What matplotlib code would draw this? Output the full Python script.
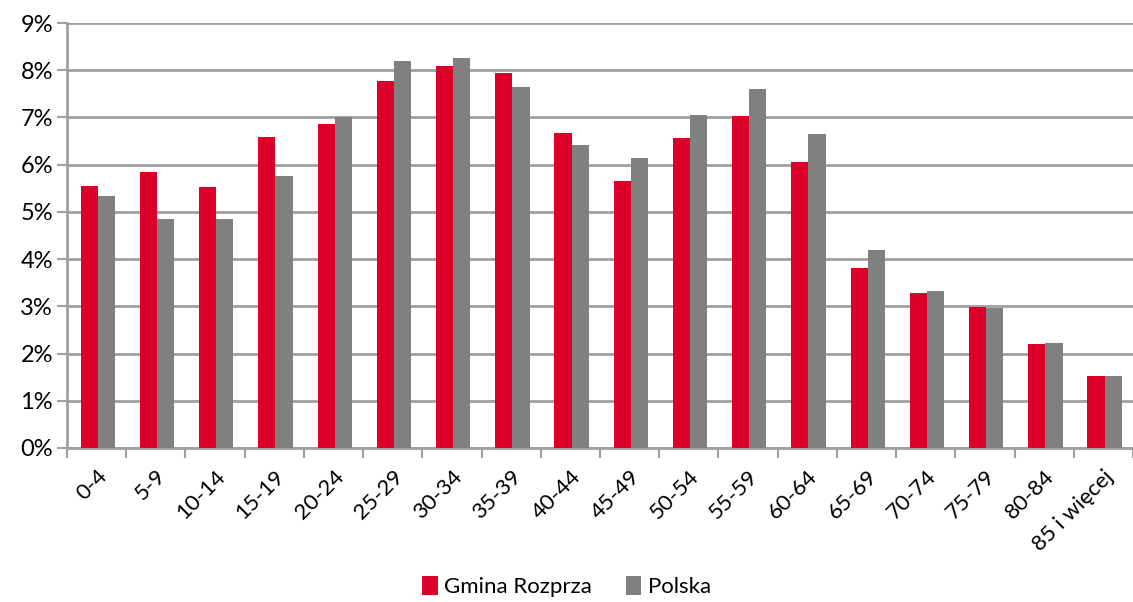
import numpy as np
import matplotlib.pyplot as plt
from matplotlib.ticker import FixedLocator, FuncFormatter

plt.rcParams['font.family'] = ['Lato', 'DejaVu Sans']

kategorie = ['0-4', '5-9', '10-14', '15-19', '20-24', '25-29', '30-34', '35-39',
             '40-44', '45-49', '50-54', '55-59', '60-64', '65-69', '70-74',
             '75-79', '80-84', '85 i więcej']
gmina = [5.55, 5.85, 5.53, 6.59, 6.87, 7.77, 8.09, 7.95, 6.67, 5.65, 6.56,
         7.03, 6.06, 3.81, 3.28, 2.99, 2.20, 1.53]
polska = [5.33, 4.85, 4.86, 5.75, 7.00, 8.19, 8.25, 7.64, 6.41, 6.14, 7.06,
          7.61, 6.64, 4.19, 3.33, 2.97, 2.22, 1.52]

W, H = 1133, 602
fig = plt.figure(figsize=(W / 100, H / 100), dpi=100)
ax = fig.add_axes([67 / W, (H - 448) / H, (W - 67) / W, (448 - 23) / H])

x = np.arange(len(kategorie))
w = 0.29
siatka = '#a0a0a0'

ax.bar(x - w / 2 + 0.02, gmina, w, color='#dc0028', label='Gmina Rozprza', zorder=3)
ax.bar(x + w / 2 + 0.02, polska, w, color='#808080', label='Polska', zorder=3)

ax.set_xlim(-0.5, len(kategorie) - 0.5)
ax.set_ylim(0, 9)
ax.set_yticks(np.arange(0, 10, 1))
ax.yaxis.set_major_formatter(FuncFormatter(lambda v, p: '%d%%' % v))
ax.yaxis.grid(True, color=siatka, linewidth=2, zorder=0)
ax.set_axisbelow(True)

ax.set_xticks(x)
ax.set_xticklabels(kategorie, rotation=45, ha='right', rotation_mode='anchor')
ax.xaxis.set_minor_locator(FixedLocator(np.arange(-0.5, len(kategorie), 1)))
ax.tick_params(axis='x', which='major', length=0, pad=13, labelsize=16)
ax.tick_params(axis='x', which='minor', length=7, width=1.5, color=siatka)
ax.tick_params(axis='y', length=7, width=1.5, color=siatka, labelsize=17, pad=3)

for s in ['top', 'right']:
    ax.spines[s].set_visible(False)
for s in ['left', 'bottom']:
    ax.spines[s].set_color(siatka)
    ax.spines[s].set_linewidth(2)

fig.legend(loc='lower center', bbox_to_anchor=(0.5, -0.025), ncol=2, frameon=False,
           fontsize=16, handlelength=0.7, handleheight=0.9, handletextpad=0.3,
           columnspacing=1.5)

fig.savefig('out.png', dpi=100)
